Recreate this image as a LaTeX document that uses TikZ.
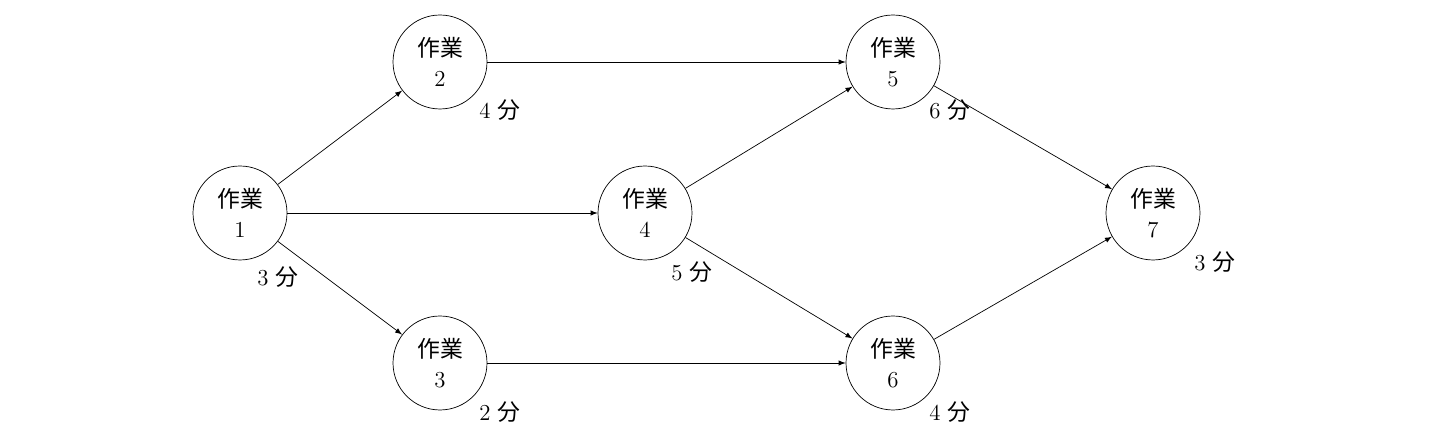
\documentclass[tikz,border=0pt]{standalone}
\usepackage{fontspec}
\newfontfamily\cjk{Noto Sans CJK JP}
\usepackage{tikz}
\usetikzlibrary{calc}

\begin{document}
\begin{tikzpicture}[x=0.02cm, y=-0.02cm,
        task/.style={circle, draw, minimum size=1.88cm, inner sep=0pt, align=center, font=\fontsize{13}{17}\selectfont},
        dur/.style={font=\fontsize{13}{16}\selectfont},
        link/.style={-latex}]

        \useasboundingbox (0,0) rectangle (1434,438);

        \node[task] (t1) at (240,213) {{\cjk 作業}\\1};
        \node[task] (t2) at (440,62) {{\cjk 作業}\\2};
        \node[task] (t3) at (440,363) {{\cjk 作業}\\3};
        \node[task] (t4) at (645,213) {{\cjk 作業}\\4};
        \node[task] (t5) at (893,62) {{\cjk 作業}\\5};
        \node[task] (t6) at (893,363) {{\cjk 作業}\\6};
        \node[task] (t7) at (1153,213) {{\cjk 作業}\\7};

        \node[dur] (d1) at (278,277) {3 {\cjk 分}};
        \node[dur] (d2) at (500,110) {4 {\cjk 分}};
        \node[dur] (d3) at (500,412) {2 {\cjk 分}};
        \node[dur] (d4) at (692,272) {5 {\cjk 分}};
        \node[dur] (d5) at (950,110) {6 {\cjk 分}};
        \node[dur] (d6) at (950,412) {4 {\cjk 分}};
        \node[dur] (d7) at (1215,262) {3 {\cjk 分}};

        \draw[link] (t1) -- (t2);
        \draw[link] (t1) -- (t3);
        \draw[link] (t1.east) -- (t4.west);
        \draw[link] (t2.east) -- (t5.west);
        \draw[link] (t3.east) -- (t6.west);
        \draw[link] (t4) -- (t5);
        \draw[link] (t4) -- (t6);
        \draw[link] (t5) -- (t7);
        \draw[link] (t6) -- (t7);

    \end{tikzpicture}
\end{document}
